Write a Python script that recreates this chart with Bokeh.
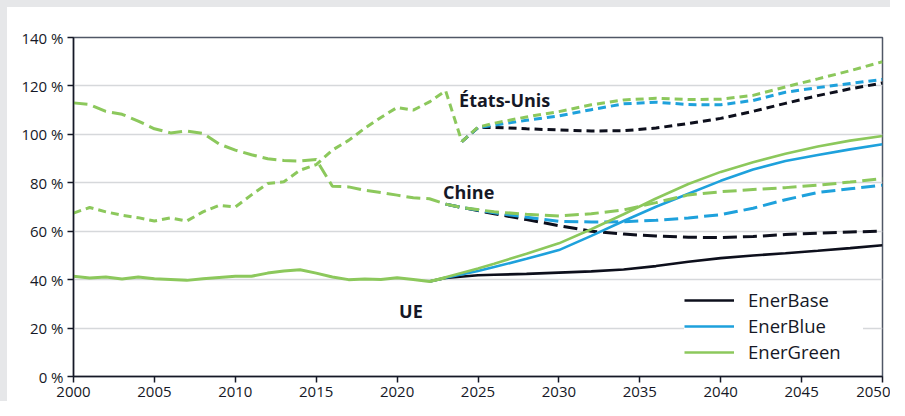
from bokeh.plotting import figure
from bokeh.models import FixedTicker, CustomJSTickFormatter, Legend, LegendItem, Label
from bokeh.embed import file_html
from bokeh.resources import INLINE

# ---------------- DATA ----------------
hist_years = list(range(2000, 2024))
ue_hist = [41.4, 40.7, 41.1, 40.3, 41.1, 40.4, 40.1, 39.7, 40.4, 40.9, 41.4, 41.4,
           42.7, 43.6, 44.1, 42.7, 41.1, 40.0, 40.3, 40.1, 40.8, 40.1, 39.2, 40.8]
chine_hist = [113.0, 112.3, 109.5, 108.3, 105.5, 102.3, 100.6, 101.4, 100.4, 96.0, 93.5, 91.6,
              89.9, 89.2, 89.0, 89.6, 78.6, 78.3, 76.9, 76.0, 74.9, 73.8, 73.4, 71.2]
us_hist_years = list(range(2000, 2025))
us_hist = [67.5, 69.8, 68.0, 66.6, 65.6, 64.2, 65.5, 64.2, 68.0, 70.7, 70.0, 75.0,
           79.7, 80.4, 85.2, 87.5, 93.5, 97.5, 102.5, 107.0, 111.1, 110.0, 113.4, 118.0, 97.0]

ue_proj_years = [2022, 2023, 2025, 2026, 2028, 2030, 2032, 2034, 2036, 2038, 2040, 2042, 2044, 2046, 2048, 2050]
ue_base = [39.2, 40.7, 41.8, 42.0, 42.4, 42.9, 43.4, 44.2, 45.6, 47.4, 48.9, 50.0, 50.9, 51.9, 53.0, 54.2]
ue_blue = [39.2, 40.8, 43.6, 45.2, 48.6, 52.2, 58.1, 64.2, 70.1, 75.5, 80.8, 85.5, 89.0, 91.5, 93.8, 95.9]
ue_green = [39.2, 41.0, 44.6, 46.6, 50.7, 55.0, 60.8, 67.0, 73.5, 79.5, 84.5, 88.5, 92.0, 95.0, 97.4, 99.3]

chine_proj_years = [2023, 2024, 2026, 2028, 2030, 2032, 2034, 2036, 2038, 2040, 2042, 2044, 2046, 2048, 2050]
chine_base = [71.2, 69.8, 67.2, 64.8, 62.3, 60.0, 58.8, 58.0, 57.5, 57.4, 57.8, 58.6, 59.2, 59.7, 60.0]
chine_blue = [71.2, 69.8, 67.6, 65.8, 64.1, 63.8, 63.9, 64.5, 65.5, 66.8, 69.5, 73.0, 76.0, 77.5, 79.0]
chine_green = [71.2, 69.8, 68.0, 67.0, 66.3, 67.2, 68.8, 71.8, 75.0, 76.3, 77.2, 78.0, 79.0, 80.3, 81.7]

us_proj_years = [2024, 2025, 2026, 2028, 2030, 2032, 2034, 2036, 2038, 2040, 2042, 2044, 2046, 2048, 2050]
us_base = [97.0, 102.8, 102.9, 102.3, 101.8, 101.4, 101.5, 102.6, 104.5, 106.6, 109.5, 112.8, 116.0, 118.8, 121.2]
us_blue = [97.0, 102.8, 103.8, 105.8, 107.6, 110.2, 112.6, 113.3, 112.3, 112.2, 114.0, 117.4, 119.3, 121.0, 122.7]
us_green = [97.0, 103.0, 104.6, 107.2, 109.4, 112.2, 114.2, 114.9, 114.4, 114.5, 116.1, 119.6, 122.9, 126.3, 130.0]

x_ticks = [2000, 2005, 2010, 2015, 2020, 2025, 2030, 2035, 2040, 2045, 2050]
y_ticks = [0, 20, 40, 60, 80, 100, 120, 140]
scenario_names = ["EnerBase", "EnerBlue", "EnerGreen"]
region_labels = ["États-Unis", "Chine", "UE"]

# ---------------- STYLE ----------------
FONT = "Open Sans"
INK = "#151826"
C_BASE = "#0d0f1c"
C_BLUE = "#1ea1dc"
C_GREEN = "#8cc85c"
DASH_LONG = "14 6"
DASH_SHORT = "8 5"

p = figure(width=890, height=401, output_backend="svg", toolbar_location=None,
           x_range=(2000, 2050), y_range=(0, 140))
p.styles = {"border-top": "7px solid #e6e7e9", "border-left": "7px solid #e6e7e9"}
p.min_border_left = 66
p.min_border_right = 15
p.min_border_top = 30
p.min_border_bottom = 32
p.background_fill_color = "white"
p.border_fill_color = "white"
p.outline_line_color = "#505766"
p.outline_line_width = 1.5

p.xgrid.grid_line_color = None
p.ygrid.grid_line_color = "#d6d8db"
p.ygrid.grid_line_width = 1.5
p.ygrid.ticker = FixedTicker(ticks=y_ticks)

p.xaxis.ticker = FixedTicker(ticks=x_ticks)
p.yaxis.ticker = FixedTicker(ticks=y_ticks)
p.yaxis.formatter = CustomJSTickFormatter(code="return tick + '\u00a0%';")
for ax in (p.xaxis[0], p.yaxis[0]):
    ax.axis_line_color = INK
    ax.axis_line_width = 1.5
    ax.major_tick_line_color = INK
    ax.major_tick_line_width = 1.5
    ax.major_tick_out = 6
    ax.major_tick_in = 0
    ax.minor_tick_line_color = None
    ax.major_label_text_font = FONT
    ax.major_label_text_font_size = "15px"
    ax.major_label_text_color = INK
p.yaxis.major_label_standoff = 4
p.xaxis.major_label_standoff = 4

colors = [C_BASE, C_BLUE, C_GREEN]
ue_sets = [ue_base, ue_blue, ue_green]
ch_sets = [chine_base, chine_blue, chine_green]
us_sets = [us_base, us_blue, us_green]

legend_renderers = []
for i in range(3):
    p.line(chine_proj_years, ch_sets[i], line_color=colors[i], line_width=3, line_dash=DASH_LONG)
    p.line(us_proj_years, us_sets[i], line_color=colors[i], line_width=3, line_dash=DASH_SHORT)
    r = p.line(ue_proj_years, ue_sets[i], line_color=colors[i], line_width=2.6)
    legend_renderers.append(r)

p.line(hist_years, chine_hist, line_color=C_GREEN, line_width=3, line_dash=DASH_LONG)
p.line(us_hist_years, us_hist, line_color=C_GREEN, line_width=3, line_dash=DASH_SHORT)
p.line(hist_years, ue_hist, line_color=C_GREEN, line_width=3)

label_pos = [(2023.83, 114.1), (2022.84, 76.2), (2020.12, 26.9)]
for txt, (lx, ly) in zip(region_labels, label_pos):
    p.add_layout(Label(x=lx, y=ly, text=txt, text_font=FONT, text_font_style="bold",
                       text_font_size="18px", text_color=INK, text_baseline="alphabetic",
                       text_align="left"))

legend = Legend(items=[LegendItem(label=n, renderers=[r]) for n, r in zip(scenario_names, legend_renderers)],
                location=(611, 12))
legend.glyph_width = 50
legend.glyph_height = 20
legend.label_height = 20
legend.label_width = 115
legend.spacing = 1
legend.padding = 10
legend.margin = 0
legend.label_standoff = 14
legend.label_text_font = FONT
legend.label_text_font_size = "18.5px"
legend.label_text_color = INK
legend.border_line_color = None
legend.background_fill_color = "white"
legend.background_fill_alpha = 1.0
p.add_layout(legend, "center")

open("out.html", "w").write(file_html(p, INLINE))
